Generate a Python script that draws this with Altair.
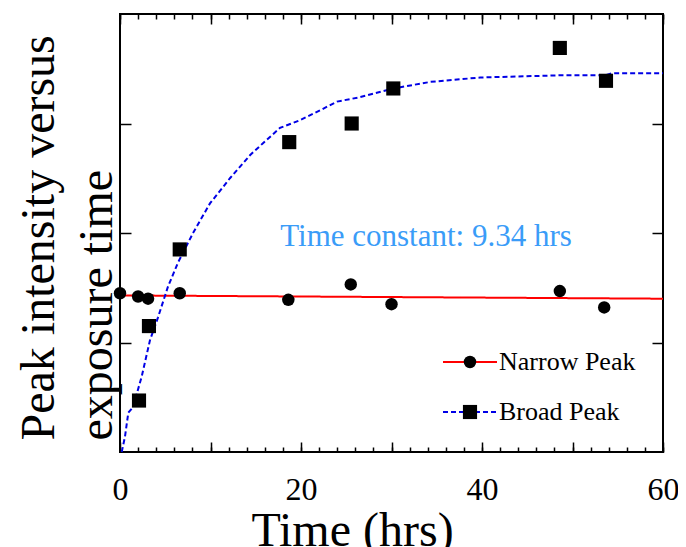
import altair as alt
import pandas as pd

# ---------------- data ----------------
series_names = ["Narrow Peak", "Broad Peak"]
point_kinds = ["narrow", "broad"]

# Narrow peak (circles)
narrow_t = [0.0, 2.0, 3.1, 6.6, 18.6, 25.5, 30.0, 48.6, 53.5]
narrow_y = [1.45, 1.42, 1.40, 1.45, 1.39, 1.53, 1.35, 1.47, 1.32]

# Broad peak (squares)
broad_t = [2.1, 3.2, 6.6, 18.7, 25.6, 30.2, 48.6, 53.7]
broad_y = [0.47, 1.15, 1.85, 2.83, 3.00, 3.32, 3.69, 3.39]

# Narrow peak linear fit (red solid)
narrow_fit_t = [0.0, 60.0]
narrow_fit_y = [1.43, 1.40]

# Broad peak exponential fit (blue dashed)
broad_fit_t = [0.19, 0.55, 0.92, 1.44, 2.40, 3.31, 4.20, 5.30, 6.41, 8.07,
               9.94, 12.15, 14.36, 15.80, 17.68, 19.89, 22.10, 23.98, 26.5,
               30.2, 34.3, 39.8, 48.6, 53.6, 54.4, 60.0]
broad_fit_y = [0.00, 0.14, 0.36, 0.41, 0.69, 1.02, 1.23, 1.51, 1.73, 2.00,
               2.27, 2.50, 2.71, 2.82, 2.96, 3.03, 3.12, 3.20, 3.24,
               3.32, 3.38, 3.42, 3.44, 3.44, 3.46, 3.46]

x_major_ticks = [0, 10, 20, 30, 40, 50, 60]
x_minor_ticks = list(range(0, 61, 2))
x_labels = [0, 20, 40, 60]
y_ticks = [1, 2, 3]

annotation = "Time constant: 9.34 hrs"
x_title = "Time (hrs)"
y_title = ["Peak intensity versus", "exposure time"]

# ---------------- tables ----------------
points_df = pd.DataFrame({
    "t": narrow_t + broad_t,
    "y": narrow_y + broad_y,
    "kind": [point_kinds[0]] * len(narrow_t) + [point_kinds[1]] * len(broad_t),
})
lines_df = pd.DataFrame({
    "t": narrow_fit_t + broad_fit_t,
    "y": narrow_fit_y + broad_fit_y,
    "series": [series_names[0]] * len(narrow_fit_t) + [series_names[1]] * len(broad_fit_t),
})

FONT = "Liberation Serif"
RED = "#ff0000"
BLUE = "#0000e6"
W, H = 543, 438

x_scale = alt.Scale(domain=[0, 60], nice=False, zero=False)
y_scale = alt.Scale(domain=[0, 4], nice=False, zero=False)

def tick_axis(orient, values, size, offset):
    return alt.Axis(orient=orient, values=values, ticks=True, tickSize=size,
                    tickWidth=1.5, tickColor="black", labels=False,
                    domain=False, grid=False, title=None, offset=offset)

axis_x_main = alt.Axis(
    orient="bottom", values=x_labels, ticks=False, labels=True,
    labelFont=FONT, labelFontSize=32, labelColor="black", labelPadding=47,
    labelBaseline="alphabetic", labelFlush=False, labelAngle=0,
    domain=False, grid=False,
    title=x_title, titleFont=FONT, titleFontSize=48, titleFontWeight="normal",
    titleColor="black", titleX=232, titleY=93, titleAlign="center",
    titleBaseline="alphabetic",
)
axis_y_main = alt.Axis(
    orient="left", ticks=False, labels=False, domain=False, grid=False,
    title=y_title, titleFont=FONT, titleFontSize=48, titleFontWeight="normal",
    titleColor="black", titleAngle=270, titleAlign="left",
    titleBaseline="alphabetic", titleX=-67, titleY=426, titleLineHeight=58,
)

line_legend = alt.Legend(
    orient="none", legendX=322, legendY=335, title=None, padding=0, offset=0,
    labelFont=FONT, labelFontSize=26, labelColor="black", labelOffset=1,
    clipHeight=26, rowPadding=24, symbolType="stroke", symbolSize=2916,
    symbolStrokeWidth=2,
)
shape_legend = alt.Legend(
    orient="none", legendX=337, legendY=335, title=None, padding=0, offset=0,
    labelFont=FONT, labelFontSize=26, labelExpr="''", clipHeight=26,
    rowPadding=24, symbolStrokeWidth=0, symbolFillColor="black",
    symbolOpacity=1,
)

lines = alt.Chart(lines_df).mark_line(strokeWidth=2).encode(
    x=alt.X("t:Q", scale=x_scale, axis=axis_x_main),
    y=alt.Y("y:Q", scale=y_scale, axis=axis_y_main),
    color=alt.Color("series:N",
                    scale=alt.Scale(domain=series_names, range=[RED, BLUE]),
                    legend=line_legend),
    strokeDash=alt.StrokeDash("series:N",
                              scale=alt.Scale(domain=series_names,
                                              range=[[1, 0], [5, 3]]),
                              legend=line_legend),
)

points = alt.Chart(points_df).mark_point(
    filled=True, opacity=1, color="black", strokeWidth=0
).encode(
    x=alt.X("t:Q", scale=x_scale, axis=tick_axis("top", x_major_ticks, 10, -H)),
    y=alt.Y("y:Q", scale=y_scale, axis=tick_axis("right", y_ticks, 11, -W)),
    shape=alt.Shape("kind:N",
                    scale=alt.Scale(domain=point_kinds, range=["circle", "square"]),
                    legend=shape_legend),
    size=alt.Size("kind:N",
                  scale=alt.Scale(domain=point_kinds, range=[155, 200]),
                  legend=shape_legend),
)

carrier1 = alt.Chart(points_df).mark_point(opacity=0).encode(
    x=alt.X("t:Q", scale=x_scale, axis=tick_axis("top", x_minor_ticks, 5, -H)),
    y=alt.Y("y:Q", scale=y_scale, axis=tick_axis("left", y_ticks, 11, -W)),
)
carrier2 = alt.Chart(points_df).mark_point(opacity=0).encode(
    x=alt.X("t:Q", scale=x_scale, axis=tick_axis("bottom", x_major_ticks, 10, -H)),
    y=alt.Y("y:Q", scale=y_scale, axis=None),
)
carrier3 = alt.Chart(points_df).mark_point(opacity=0).encode(
    x=alt.X("t:Q", scale=x_scale, axis=tick_axis("bottom", x_minor_ticks, 5, -H)),
    y=alt.Y("y:Q", scale=y_scale, axis=None),
)

note = alt.Chart(alt.Data(values=[{"label": annotation}])).mark_text(
    font=FONT, fontSize=31, color="#3a9cf8", align="center", baseline="middle"
).encode(
    x=alt.value(306), y=alt.value(223), text="label:N"
)

chart = alt.layer(
    carrier1, carrier2, carrier3, lines, points, note
).resolve_axis(
    x="independent", y="independent"
).properties(
    width=W, height=H,
    autosize=alt.AutoSizeParams(type="none"),
    padding={"left": 112, "top": 6, "right": 15, "bottom": 95},
).configure_view(
    stroke="black", strokeWidth=2
)

chart.save("out.html", embed_options={"renderer": "svg", "actions": False})
